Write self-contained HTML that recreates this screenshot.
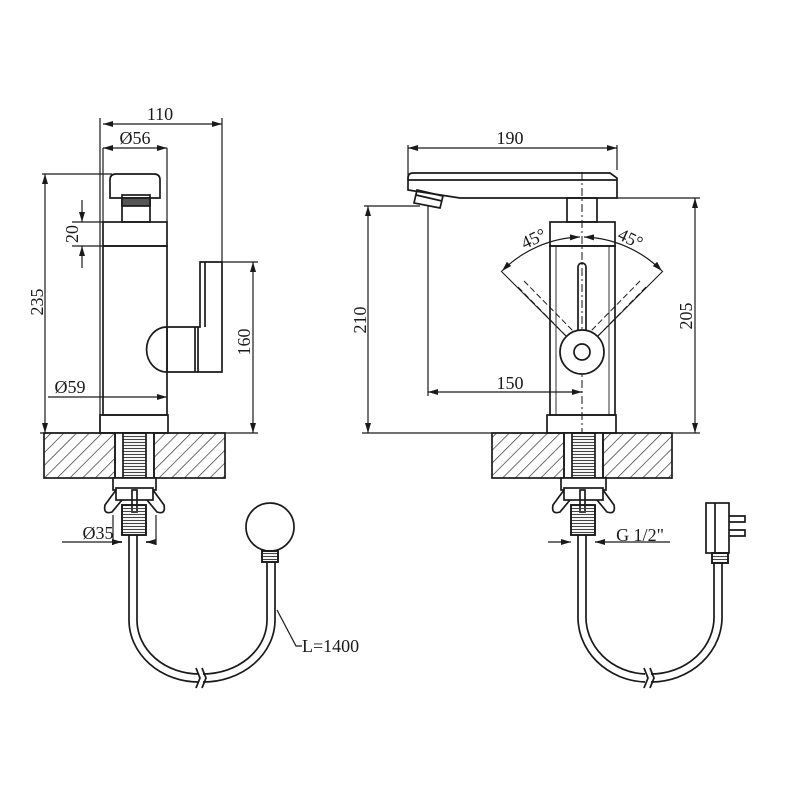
<!DOCTYPE html>
<html><head><meta charset="utf-8"><style>html,body{margin:0;padding:0;background:#fff}svg{display:block}</style></head>
<body>
<svg width="800" height="800" viewBox="0 0 800 800" xmlns="http://www.w3.org/2000/svg" font-family="Liberation Serif, serif" font-size="18" fill="none" stroke="#1a1a1a" stroke-width="1.7">
<defs>
<pattern id="h" patternUnits="userSpaceOnUse" width="9" height="9" patternTransform="rotate(45)"><line x1="0" y1="0" x2="0" y2="9" stroke="#333" stroke-width="1.4"/></pattern>
<pattern id="t" patternUnits="userSpaceOnUse" width="4" height="3"><line x1="0" y1="1.5" x2="4" y2="1.5" stroke="#444" stroke-width="1.1"/></pattern>
<marker id="a" viewBox="0 0 10 6" refX="10" refY="3" markerWidth="10" markerHeight="6" orient="auto-start-reverse" markerUnits="userSpaceOnUse"><path d="M0,0 L10,3 L0,6 z" fill="#1a1a1a" stroke="none"/></marker>
</defs>
<g fill="#1a1a1a" stroke="none">
<text x="160" y="120" text-anchor="middle">110</text>
<text x="135" y="144" text-anchor="middle">Ø56</text>
<text x="70" y="393" text-anchor="middle">Ø59</text>
<text x="98" y="539" text-anchor="middle">Ø35</text>
<text x="302" y="652">L=1400</text>
<text transform="translate(43,302) rotate(-90)" text-anchor="middle">235</text>
<text transform="translate(78,234) rotate(-90)" text-anchor="middle">20</text>
<text transform="translate(250,342) rotate(-90)" text-anchor="middle">160</text>
<text x="510" y="144" text-anchor="middle">190</text>
<text x="510" y="389" text-anchor="middle">150</text>
<text x="640" y="541" text-anchor="middle">G 1/2"</text>
<text transform="translate(366,320) rotate(-90)" text-anchor="middle">210</text>
<text transform="translate(692,316) rotate(-90)" text-anchor="middle">205</text>
<text transform="translate(536,244) rotate(-25)" text-anchor="middle">45°</text>
<text transform="translate(628,244) rotate(25)" text-anchor="middle">45°</text>
</g>
<!-- LEFT VIEW -->
<g>
<line x1="100" y1="118" x2="100" y2="433" stroke-width="1.2"/><line x1="222" y1="118" x2="222" y2="262" stroke-width="1.2"/>
<line x1="103" y1="124" x2="222" y2="124" marker-start="url(#a)" marker-end="url(#a)" stroke-width="1.2"/>
<line x1="103" y1="148" x2="167" y2="148" marker-start="url(#a)" marker-end="url(#a)" stroke-width="1.2"/>
<line x1="103" y1="148" x2="103" y2="222" stroke-width="1.2"/><line x1="167" y1="148" x2="167" y2="222" stroke-width="1.2"/>
<line x1="42" y1="174" x2="112" y2="174" stroke-width="1.2"/>
<line x1="45" y1="174" x2="45" y2="433" marker-start="url(#a)" marker-end="url(#a)" stroke-width="1.2"/>
<path d="M110,198 V180 Q110,174 116,174 H154 Q160,174 160,180 V198 Z"/>
<rect x="122" y="195" width="28" height="27"/>
<rect x="122" y="198" width="28" height="8" fill="#555"/>
<rect x="103" y="222" width="64" height="24"/>
<rect x="103" y="246" width="64" height="169"/>
<rect x="100" y="415" width="68" height="18"/>
<line x1="72" y1="222" x2="103" y2="222" stroke-width="1.2"/><line x1="72" y1="246" x2="103" y2="246" stroke-width="1.2"/>
<line x1="82" y1="200" x2="82" y2="222" marker-end="url(#a)" stroke-width="1.2"/><line x1="82" y1="268" x2="82" y2="246" marker-end="url(#a)" stroke-width="1.2"/>
<path d="M205,262 H222 V372 H167 V327 H200 V262 Z M205,262 V327"/>
<path d="M167,327 A20,22 0 0 0 167,372"/>
<line x1="195" y1="327" x2="195" y2="372"/><line x1="198" y1="327" x2="198" y2="372"/>
<line x1="222" y1="262" x2="258" y2="262" stroke-width="1.2"/>
<line x1="253" y1="262" x2="253" y2="433" marker-start="url(#a)" marker-end="url(#a)" stroke-width="1.2"/>
<line x1="48" y1="397" x2="167" y2="397" marker-end="url(#a)" stroke-width="1.2"/>
<line x1="40" y1="433" x2="258" y2="433" stroke-width="1.2"/>
<rect x="44" y="433" width="181" height="45" fill="url(#h)"/>
<rect x="115" y="433" width="39" height="45" fill="#fff"/>
<line x1="115" y1="433" x2="115" y2="478"/><line x1="154" y1="433" x2="154" y2="478"/>
<rect x="123" y="433" width="23" height="45" fill="url(#t)"/>
<rect x="113" y="478" width="43" height="12" fill="#fff"/>
<path d="M116,490 L105,505 Q103,515 112,512 L122,500"/>
<path d="M153,490 L164,505 Q166,515 157,512 L147,500"/>
<rect x="116" y="488" width="37" height="12" fill="#fff"/>
<rect x="132" y="490" width="5" height="22"/>
<rect x="122" y="505" width="24" height="30" fill="url(#t)"/>
<rect x="122" y="505" width="24" height="30"/>
<line x1="62" y1="542" x2="122" y2="542" stroke-width="1.2"/><line x1="146" y1="542" x2="156" y2="542" stroke-width="1.2"/>
<line x1="112" y1="542" x2="122" y2="542" marker-end="url(#a)"/><line x1="156" y1="542" x2="146" y2="542" marker-end="url(#a)"/>
<line x1="113" y1="515" x2="113" y2="545" stroke-width="1.2"/><line x1="156" y1="515" x2="156" y2="545" stroke-width="1.2"/>
<path d="M129,535 V620 A70,62 0 0 0 199,682"/><path d="M137,535 V620 A62,54 0 0 0 199,674"/>
<path d="M203,682 A72,62 0 0 0 275,620 V562"/><path d="M203,674 A64,54 0 0 0 267,620 V562"/>
<path d="M196,668 L200,678 L196,688 M202,668 L206,678 L202,688"/>
<circle cx="270" cy="527" r="24"/>
<rect x="262" y="551" width="16" height="11" fill="url(#t)"/><rect x="262" y="551" width="16" height="11"/>
<path d="M277,610 L296,646 H302" stroke-width="1.2"/>
</g>
<!-- RIGHT VIEW -->
<g>
<line x1="408" y1="145" x2="408" y2="180" stroke-width="1.2"/><line x1="617" y1="145" x2="617" y2="170" stroke-width="1.2"/>
<line x1="408" y1="148" x2="617" y2="148" marker-start="url(#a)" marker-end="url(#a)" stroke-width="1.2"/>
<path d="M408,190 V178 Q408,173 413,173 H610 L617,178 V198 H460 Z"/>
<line x1="408" y1="180" x2="617" y2="180"/>
<path d="M417,190 L443,196 L440,208 L414,203 Z"/>
<line x1="416" y1="195" x2="442" y2="201"/>
<line x1="364" y1="206" x2="420" y2="206" stroke-width="1.2"/>
<line x1="368" y1="206" x2="368" y2="433" marker-start="url(#a)" marker-end="url(#a)" stroke-width="1.2"/>
<line x1="428" y1="205" x2="428" y2="396" stroke-width="1.2"/>
<line x1="428" y1="392" x2="582" y2="392" marker-start="url(#a)" marker-end="url(#a)" stroke-width="1.2"/>
<rect x="567" y="198" width="30" height="24"/>
<rect x="550" y="222" width="65" height="24"/>
<rect x="550" y="246" width="65" height="169"/>
<line x1="556" y1="246" x2="556" y2="415" stroke-width="0.9"/><line x1="609" y1="246" x2="609" y2="415" stroke-width="0.9"/>
<rect x="547" y="415" width="69" height="18"/>
<line x1="582" y1="172" x2="582" y2="440" stroke-dasharray="8,3,2,3" stroke-width="1"/>
<line x1="617" y1="198" x2="700" y2="198" stroke-width="1.2"/>
<line x1="695" y1="198" x2="695" y2="433" marker-start="url(#a)" marker-end="url(#a)" stroke-width="1.2"/>
<path d="M502,271 A115,115 0 0 1 580,237" marker-start="url(#a)" marker-end="url(#a)" stroke-width="1.2"/>
<path d="M662,271 A115,115 0 0 0 584,237" marker-start="url(#a)" marker-end="url(#a)" stroke-width="1.2"/>
<line x1="582" y1="352" x2="501" y2="271" stroke-width="1.1"/><line x1="582" y1="352" x2="663" y2="271" stroke-width="1.1"/>
<path d="M518,287 L570,340 M524,281 L576,334" stroke-dasharray="6,3" stroke-width="1"/>
<path d="M646,287 L594,340 M640,281 L588,334" stroke-dasharray="6,3" stroke-width="1"/>
<path d="M578,340 V267 A4,4 0 0 1 586,267 V340"/>
<circle cx="582" cy="352" r="22" fill="#fff"/>
<circle cx="582" cy="352" r="8"/>
<line x1="362" y1="433" x2="700" y2="433" stroke-width="1.2"/>
<rect x="492" y="433" width="180" height="45" fill="url(#h)"/>
<rect x="564" y="433" width="39" height="45" fill="#fff"/>
<line x1="564" y1="433" x2="564" y2="478"/><line x1="603" y1="433" x2="603" y2="478"/>
<rect x="572" y="433" width="23" height="45" fill="url(#t)"/>
<rect x="561" y="478" width="45" height="12" fill="#fff"/>
<path d="M564,490 L553,505 Q551,515 560,512 L570,500"/>
<path d="M603,490 L614,505 Q616,515 607,512 L597,500"/>
<rect x="564" y="488" width="39" height="12" fill="#fff"/>
<rect x="580" y="490" width="5" height="22"/>
<rect x="571" y="505" width="24" height="30" fill="url(#t)"/>
<rect x="571" y="505" width="24" height="30"/>
<line x1="548" y1="542" x2="571" y2="542" marker-end="url(#a)" stroke-width="1.2"/><line x1="605" y1="542" x2="595" y2="542" marker-end="url(#a)" stroke-width="1.2"/>
<line x1="595" y1="542" x2="670" y2="542" stroke-width="1.2"/>
<path d="M578,535 V615 A70,65 0 0 0 645,682"/><path d="M586,535 V615 A62,57 0 0 0 645,674"/>
<path d="M651,682 A71,65 0 0 0 722,615 V562"/><path d="M651,674 A63,57 0 0 0 714,615 V562"/>
<path d="M644,668 L648,678 L644,688 M650,668 L654,678 L650,688"/>
<rect x="706" y="503" width="23" height="50"/>
<line x1="715" y1="503" x2="715" y2="553"/>
<path d="M729,516 H745 V522 H729 M729,530 H745 V536 H729"/>
<rect x="712" y="553" width="16" height="10" fill="url(#t)"/><rect x="712" y="553" width="16" height="10"/>
</g>
</svg>
</body></html>
